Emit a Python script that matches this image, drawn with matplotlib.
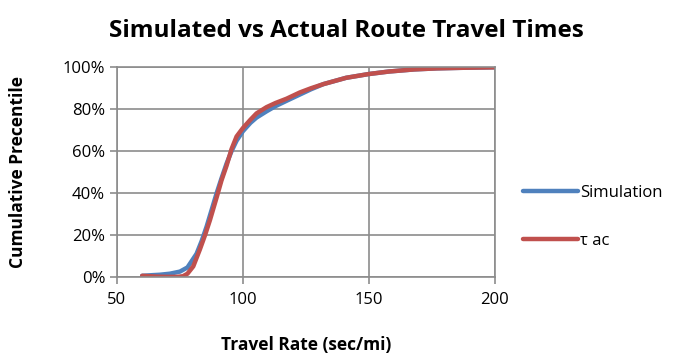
import matplotlib.pyplot as plt
from matplotlib.ticker import PercentFormatter

plt.rcParams['font.family'] = ['Open Sans', 'DejaVu Sans']

# travel rate (sec/mi) and cumulative percentile
sim_x = [60, 64, 67, 71, 75, 78, 81.6, 83.6, 85.6, 87.6, 89.6, 91.5, 93.5, 95.5, 97.5, 100,
         103, 105.4, 109.4, 113, 117.3, 122.6, 127, 132, 141, 150, 158, 168, 177, 188, 200]
sim_y = [0.5, 0.8, 1.0, 1.5, 2.5, 4.5, 11, 17, 24, 32, 40, 47, 54, 60, 65, 69.5,
         73.5, 76, 79, 81.5, 84, 87, 89.5, 92, 95, 96.8, 98, 99, 99.5, 99.8, 100]
act_x = [60, 63, 66, 70, 74, 76.2, 78, 80.3, 82.9, 85, 86.9, 89.6, 91.5, 93.5, 95.5, 97.5, 100,
         103, 105.4, 109.4, 113, 117.3, 122.6, 127, 132, 141, 150, 158, 168, 177, 188, 200]
act_y = [0.5, 0.3, 0.1, 0, 0, 0.3, 1.5, 5, 13, 20, 27, 38, 46, 53, 61, 67, 71,
         75, 78, 81, 83, 85, 88, 90, 92, 95, 96.8, 98, 99, 99.5, 99.8, 100]

fig = plt.figure(figsize=(6.92, 3.6), dpi=100)
ax = fig.add_axes([0.169, 0.231, 0.546, 0.582])

ax.plot(sim_x, sim_y, color='#4F81BD', lw=3.2, solid_capstyle='round', label='Simulation')
ax.plot(act_x, act_y, color='#C0504D', lw=3.2, solid_capstyle='round', label='τ ac')

ax.set_xlim(50, 200)
ax.set_ylim(0, 100)
ax.set_xticks([50, 100, 150, 200])
ax.set_yticks([0, 20, 40, 60, 80, 100])
ax.yaxis.set_major_formatter(PercentFormatter(decimals=0))
ax.grid(True, color='#8c8c8c', lw=1.2)
ax.set_axisbelow(True)
for s in ax.spines.values():
    s.set_color('#8c8c8c')
    s.set_linewidth(1.2)
ax.tick_params(colors='#8c8c8c', labelcolor='black', labelsize=12, length=5, width=1.2)
ax.tick_params(axis='x', pad=6)

fig.text(0.5, 0.915, 'Simulated vs Actual Route Travel Times', fontsize=17.5,
         fontweight='bold', ha='center', va='center')
ax.set_xlabel('Travel Rate (sec/mi)', fontsize=12.5, fontweight='bold', labelpad=20)
ax.set_ylabel('Cumulative Precentile', fontsize=12.5, fontweight='bold', labelpad=26)

ax.legend(loc='center left', bbox_to_anchor=(1.035, 0.285), frameon=False, fontsize=12,
          handlelength=3.3, handletextpad=0.1, labelspacing=1.9)

fig.savefig('out.png', dpi=100)
